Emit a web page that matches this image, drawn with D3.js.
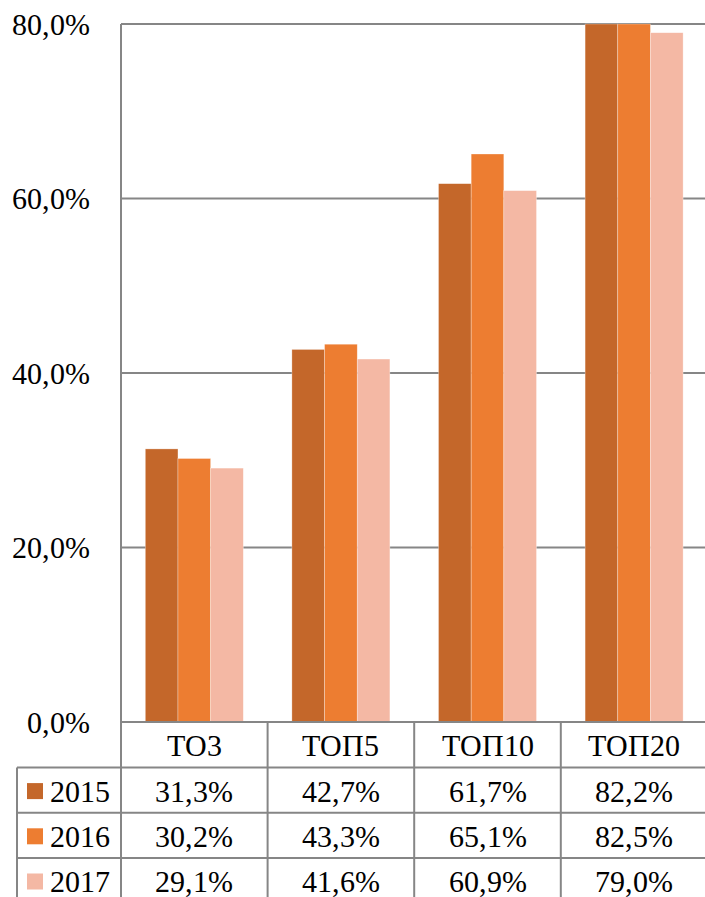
<!DOCTYPE html>
<html>
<head>
  <meta charset="UTF-8">
  <script src="https://d3js.org/d3.v7.min.js"></script>
  <style>
    @font-face {
      font-family: "ChartSerif";
      src: local("Liberation Serif"), local("LiberationSerif"), local("LiberationSerif-Regular"), local("Times New Roman");
    }
    body { margin: 0; background: #fff; }
    svg { display: block; }
    .grid { stroke: #868686; stroke-width: 2; }
    .lbl { font-family: "ChartSerif", "Liberation Serif", "Times New Roman", serif; font-size: 30px; fill: #000; }
  </style>
</head>
<body>
<svg id="chart" width="705" height="897"></svg>
<script>
const categories = ["ТО3", "ТОП5", "ТОП10", "ТОП20"];
const years = ["2015", "2016", "2017"];
const values2015 = [31.3, 42.7, 61.7, 82.2];
const values2016 = [30.2, 43.3, 65.1, 82.5];
const values2017 = [29.1, 41.6, 60.9, 79.0];
const yTicks = [0, 20, 40, 60, 80];
const colors = ["#c4672a", "#ed7d31", "#f4b8a4"];

const series = [values2015, values2016, values2017];
const fmt = v => v.toFixed(1).replace(".", ",") + "%";
const serif = "ChartSerif, Liberation Serif, Times New Roman, serif";

const svg = d3.select("#chart");
const W = 705, H = 897;
const plotLeft = 121, plotTop = 24, plotBottom = 722;
const rowH = 45.2, headerH = 45.5, legendLeft = 17;

const x = d3.scaleBand().domain(categories).range([plotLeft, plotLeft + 4 * 146.6]);
const xi = d3.scaleBand().domain(years).range([24.3, x.bandwidth() - 24.3]);
const y = d3.scaleLinear().domain([0, 80]).range([plotBottom, plotTop]).clamp(true);

const label = (sel) => sel.append("text")
  .attr("class", "lbl")
  .attr("font-family", serif)
  .attr("font-size", 30)
  .attr("dominant-baseline", "central");

function draw() {
  // horizontal gridlines
  svg.append("g").selectAll("line").data(yTicks.filter(t => t > 0)).join("line")
    .attr("class", "grid")
    .attr("x1", plotLeft).attr("x2", W)
    .attr("y1", d => y(d)).attr("y2", d => y(d));

  // y labels
  const yg = svg.append("g");
  yTicks.forEach(t => {
    label(yg).attr("x", 90).attr("y", y(t)).attr("text-anchor", "end").text(fmt(t));
  });

  // bars
  series.forEach((vals, i) => {
    svg.append("g").selectAll("rect").data(vals).join("rect")
      .attr("x", (d, j) => x(categories[j]) + xi(years[i]))
      .attr("width", xi.bandwidth())
      .attr("y", d => y(d))
      .attr("height", d => y(0) - y(d))
      .attr("fill", colors[i])
      .attr("stroke", "#fff").attr("stroke-width", 0.6).attr("stroke-opacity", 0.5);
  });

  // table
  const rowTop = i => plotBottom + headerH + i * rowH;
  const tbl = svg.append("g");
  tbl.append("line").attr("class", "grid").attr("x1", plotLeft).attr("x2", W).attr("y1", plotBottom).attr("y2", plotBottom);
  [0, 1, 2].forEach(i => {
    tbl.append("line").attr("class", "grid")
      .attr("x1", legendLeft).attr("x2", W).attr("y1", rowTop(i)).attr("y2", rowTop(i));
  });
  tbl.append("line").attr("class", "grid").attr("x1", plotLeft).attr("x2", plotLeft).attr("y1", plotTop).attr("y2", H);
  categories.slice(1).forEach(c => {
    tbl.append("line").attr("class", "grid").attr("x1", x(c)).attr("x2", x(c)).attr("y1", plotBottom).attr("y2", H);
  });
  tbl.append("line").attr("class", "grid").attr("x1", legendLeft).attr("x2", legendLeft).attr("y1", rowTop(0)).attr("y2", H);

  // header labels
  categories.forEach(c => {
    label(tbl).attr("x", x(c) + x.bandwidth() / 2).attr("y", plotBottom + headerH / 2 + 1)
      .attr("text-anchor", "middle").text(c);
  });

  // rows
  years.forEach((yr, i) => {
    const cy = rowTop(i) + rowH / 2 + 1;
    tbl.append("rect").attr("x", 27).attr("y", cy - 8).attr("width", 16).attr("height", 16).attr("fill", colors[i]);
    label(tbl).attr("x", 50).attr("y", cy).text(yr);
    series[i].forEach((v, j) => {
      label(tbl).attr("x", x(categories[j]) + x.bandwidth() / 2).attr("y", cy)
        .attr("text-anchor", "middle").text(fmt(v));
    });
  });
}

draw();
</script>
</body>
</html>
